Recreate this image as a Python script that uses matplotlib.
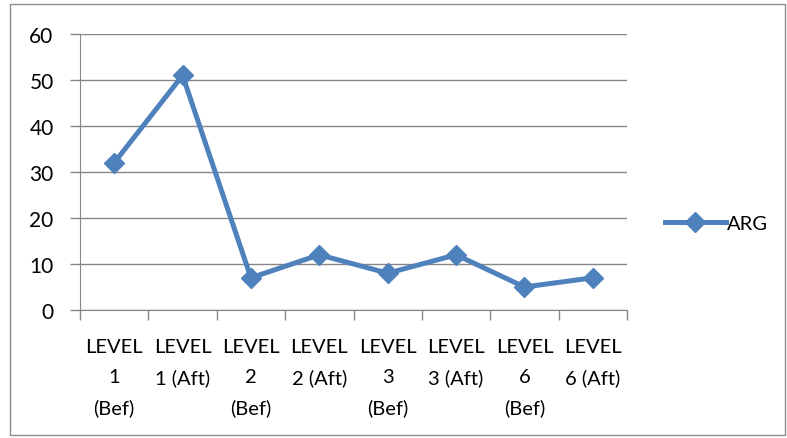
import matplotlib
matplotlib.use('Agg')
import matplotlib.pyplot as plt
from matplotlib.patches import Rectangle

BLUE = '#4F81BD'
GRID = '#868686'
plt.rcParams['font.family'] = ['Lato', 'DejaVu Sans']

categories = ['LEVEL\n1\n(Bef)', 'LEVEL\n1 (Aft)', 'LEVEL\n2\n(Bef)', 'LEVEL\n2 (Aft)',
              'LEVEL\n3\n(Bef)', 'LEVEL\n3 (Aft)', 'LEVEL\n6\n(Bef)', 'LEVEL\n6 (Aft)']
arg = [32, 51, 7, 12, 8, 12, 5, 7]

fig = plt.figure(figsize=(7.87, 4.39), dpi=100)
fig.patches.append(Rectangle((10 / 787, 3 / 439), 775 / 787, 431 / 439,
                             transform=fig.transFigure, fill=False,
                             edgecolor='#8C8C8C', lw=1))
ax = fig.add_axes([80 / 787, 1 - 311 / 439, 547 / 787, 276 / 439])

x = list(range(len(arg)))
ax.plot(x, arg, color=BLUE, lw=3.6, marker='D', ms=10, label='ARG')

ax.set_xlim(-0.5, len(arg) - 0.5)
ax.set_ylim(0, 60)
ax.set_yticks(range(0, 61, 10))
ax.yaxis.grid(True, color=GRID, lw=1)
ax.set_axisbelow(True)

ax.set_xticks(x)
ax.set_xticklabels(categories, fontsize=14.5, linespacing=1.92, va='top')
ax.set_xticks([i - 0.5 for i in range(len(arg) + 1)], minor=True)
ax.tick_params(axis='x', which='major', length=0, pad=20)
ax.tick_params(axis='x', which='minor', length=7, color=GRID, width=1, direction='out')
ax.tick_params(axis='y', length=7, color=GRID, width=1, labelsize=15, pad=12)

for s in ['top', 'right']:
    ax.spines[s].set_visible(False)
for s in ['left', 'bottom']:
    ax.spines[s].set_color(GRID)

ax.legend(loc='center left', bbox_to_anchor=(1.07, 0.315), frameon=False,
          fontsize=14.5, handlelength=3.0, handletextpad=0.05, borderaxespad=0, borderpad=0)

fig.savefig('out.png', dpi=100)
